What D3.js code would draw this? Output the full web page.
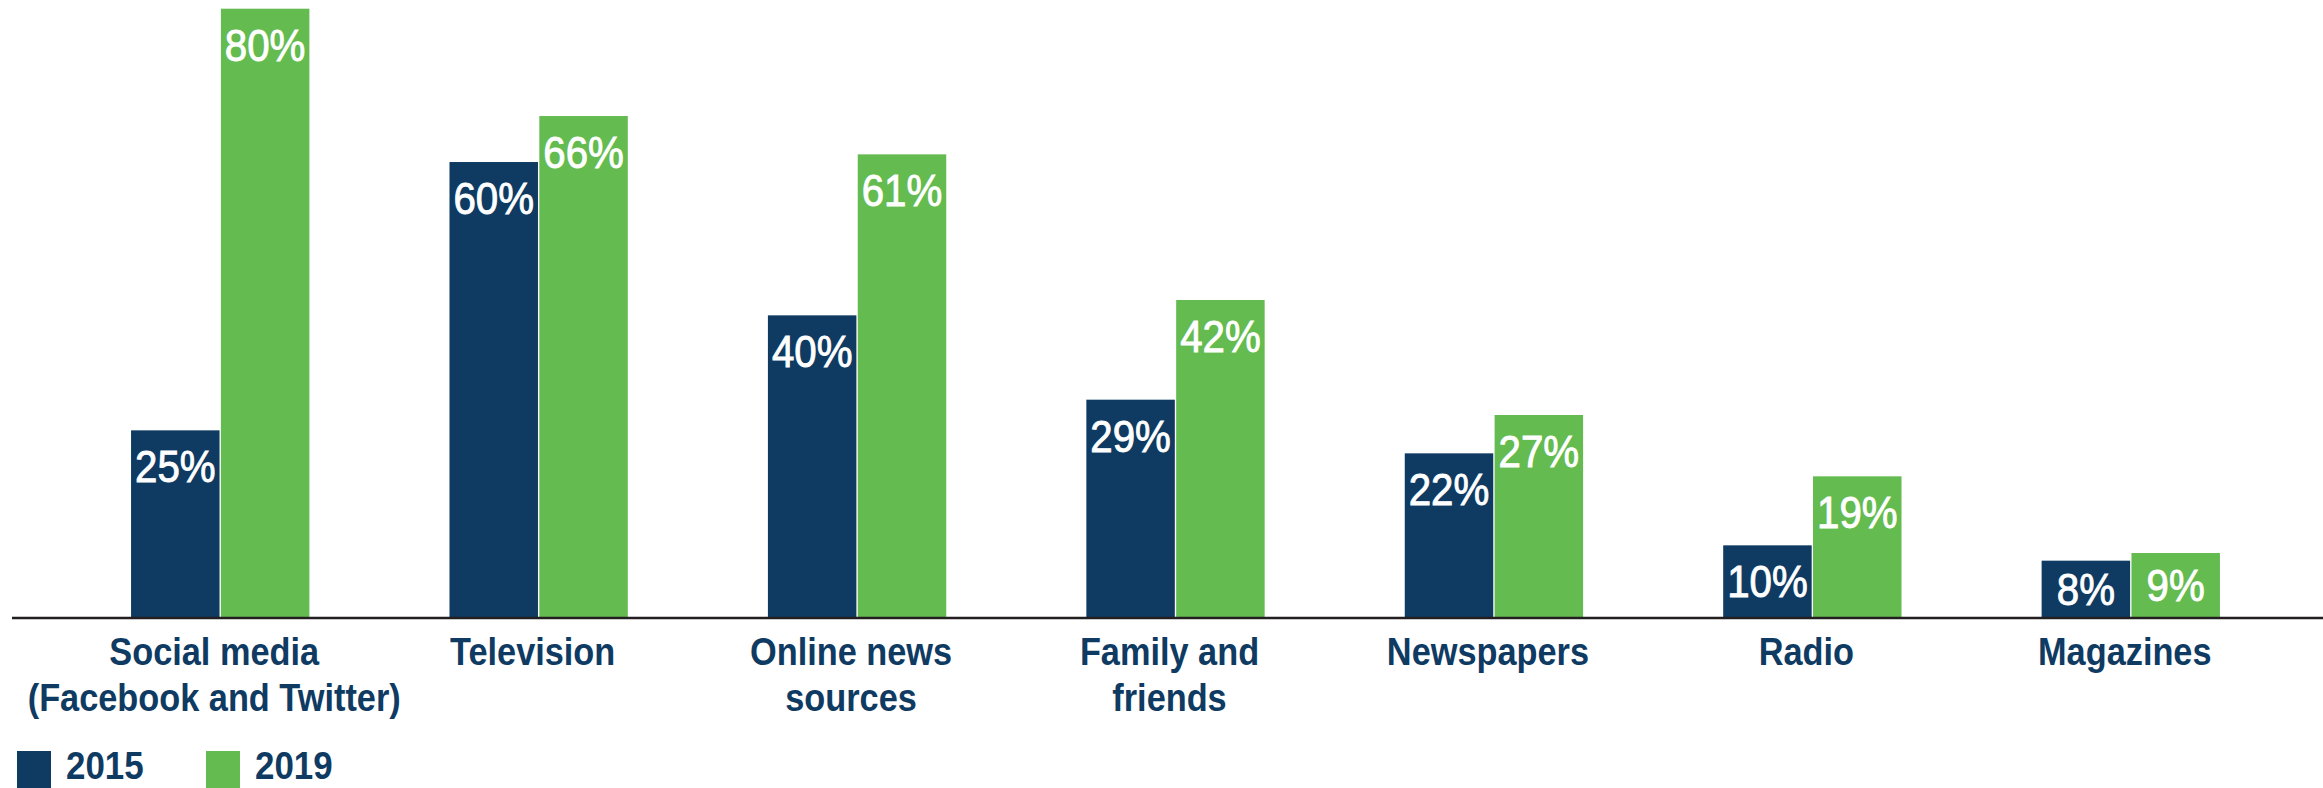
<!DOCTYPE html>
<html>
<head>
<meta charset="utf-8">
<script src="https://cdn.jsdelivr.net/npm/d3@7"></script>
<style>
  html, body { margin: 0; padding: 0; background: #ffffff; }
  svg { display: block; }
  text { font-family: "Liberation Sans", Arial, Helvetica, sans-serif; }
</style>
</head>
<body>
<svg id="chart" width="2323" height="788"></svg>
<script>
// ---- data ----
const categories = [
  ["Social media", "(Facebook and Twitter)"],
  ["Television"],
  ["Online news", "sources"],
  ["Family and", "friends"],
  ["Newspapers"],
  ["Radio"],
  ["Magazines"]
];
const seriesNames = ["2015", "2019"];
const values2015 = [25, 60, 40, 29, 22, 10, 8];
const values2019 = [80, 66, 61, 42, 27, 19, 9];

// ---- styling ----
const NAVY = "#0f3b63";
const GREEN = "#64bb4f";
const colors = { "2015": NAVY, "2019": GREEN };

const W = 2323, H = 788;
const baseline = 617;
const svg = d3.select("#chart");

const catKeys = categories.map(c => c.join(" "));
const x0 = d3.scaleBand().domain(catKeys).range([61, 2290])
  .paddingInner(0.44).paddingOuter(0.22);
const x1 = d3.scaleBand().domain(seriesNames).range([0, x0.bandwidth()])
  .paddingInner(0.015).paddingOuter(0);
const y = d3.scaleLinear().domain([0, 80]).range([622, 8.7]);

const rows = catKeys.map((k, i) => ({
  key: k, lines: categories[i],
  vals: [{s: "2015", v: values2015[i]}, {s: "2019", v: values2019[i]}]
}));

const groups = svg.selectAll("g.grp").data(rows).join("g")
  .attr("class", "grp")
  .attr("transform", d => `translate(${x0(d.key)},0)`);

groups.selectAll("rect").data(d => d.vals).join("rect")
  .attr("x", d => x1(d.s))
  .attr("y", d => y(d.v))
  .attr("width", x1.bandwidth())
  .attr("height", d => baseline - y(d.v))
  .attr("fill", d => colors[d.s]);

// value labels
const capH = 32;
groups.selectAll("g.val").data(d => d.vals).join("g")
  .attr("class", "val")
  .attr("transform", d => {
    const h = baseline - y(d.v);
    const off = Math.min(52, (h + capH) / 2);
    return `translate(${x1(d.s) + x1.bandwidth() / 2},${y(d.v) + off}) scale(0.915,1)`;
  })
  .append("text")
  .attr("text-anchor", "middle")
  .attr("fill", "#ffffff")
  .attr("stroke", "#ffffff")
  .attr("stroke-width", 0.9)
  .attr("font-size", 44)
  .text(d => d.v + "%");

// axis line
svg.append("line")
  .attr("x1", 12).attr("x2", W)
  .attr("y1", 618).attr("y2", 618)
  .attr("stroke", "#231f20").attr("stroke-width", 2.5);

// category labels
groups.append("g")
  .attr("transform", `translate(${x0.bandwidth() / 2 - 6},665) scale(0.88,1)`)
  .append("text")
  .attr("text-anchor", "middle")
  .attr("fill", NAVY)
  .attr("font-size", 39)
  .attr("font-weight", "bold")
  .selectAll("tspan").data(d => d.lines).join("tspan")
  .attr("x", 0)
  .attr("y", (d, i) => i * 46)
  .text(d => d);

// legend
const legendX = [17, 206];
const leg = svg.selectAll("g.leg").data(seriesNames).join("g")
  .attr("class", "leg")
  .attr("transform", (d, i) => `translate(${legendX[i]},0)`);
leg.append("rect")
  .attr("x", 0).attr("y", 751)
  .attr("width", 34).attr("height", 37)
  .attr("fill", d => colors[d]);
leg.append("g")
  .attr("transform", "translate(49,779) scale(0.92,1)")
  .append("text")
  .attr("fill", NAVY)
  .attr("font-size", 38)
  .attr("font-weight", "bold")
  .text(d => d);
</script>
</body>
</html>
